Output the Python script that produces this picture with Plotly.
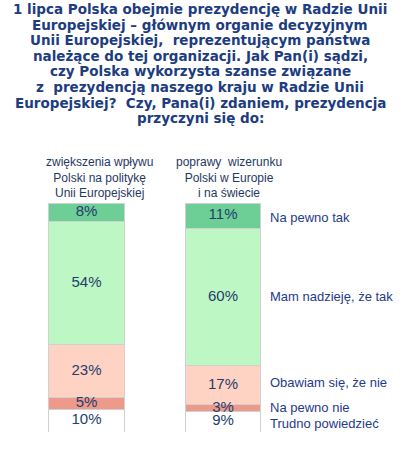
import numpy as np
import plotly.graph_objects as go

# dane z wykresu (od dołu słupka do góry)
odpowiedzi = ['Trudno powiedzieć', 'Na pewno nie', 'Obawiam się, że nie', 'Mam nadzieję, że tak', 'Na pewno tak']
kolory = ['#FFFFFF', '#EE9A8A', '#FFD3C3', '#BDF7C3', '#6DCE96']
wplyw = [10, 5, 23, 54, 8]
wizerunek = [9, 3, 17, 60, 11]
kategorie = ['zwiększenia wpływu<br>Polski na politykę<br>Unii Europejskiej',
             'poprawy  wizerunku<br>Polski w Europie<br>i na świecie']

tytul = ['1 lipca Polska obejmie prezydencję w Radzie Unii',
         'Europejskiej – głównym organie decyzyjnym',
         'Unii Europejskiej,  reprezentującym państwa',
         'należące do tej organizacji. Jak Pan(i) sądzi,',
         'czy Polska wykorzysta szanse związane',
         'z  prezydencją naszego kraju w Radzie Unii',
         'Europejskiej?  Czy, Pana(i) zdaniem, prezydencja',
         'przyczyni się do:']

fig = go.Figure()
for i, nazwa in enumerate(odpowiedzi):
    fig.add_trace(go.Bar(x=[0, 1], y=[wplyw[i], wizerunek[i]], name=nazwa, width=0.555,
                         marker=dict(color=kolory[i], line=dict(color='#D0D0D0', width=1))))

# etykiety procentowe w środku segmentów
for j, seria in enumerate([wplyw, wizerunek]):
    seria = np.array(seria)
    srodki = np.cumsum(seria) - seria / 2
    fig.add_trace(go.Scatter(x=[j] * len(seria), y=srodki, mode='text',
                             text=[f'{v}%' for v in seria],
                             textfont=dict(family='Liberation Sans, Arial', size=15, color='#253C6E'),
                             showlegend=False, hoverinfo='skip'))

# opisy odpowiedzi po prawej, przy drugim słupku
s2 = np.array(wizerunek)
srodki2 = np.cumsum(s2) - s2 / 2
przes = [-2, 0, 3, 0, -2]
for i, nazwa in enumerate(odpowiedzi):
    fig.add_annotation(x=1.33, y=srodki2[i], xref='x', yref='y', text=nazwa, showarrow=False,
                       xanchor='left', yanchor='middle', yshift=przes[i],
                       font=dict(family='Liberation Sans, Arial', size=13, color='#1F3A8A'))

# opisy kategorii nad słupkami
for j, kat in enumerate(kategorie):
    fig.add_annotation(x=[0.092, 1.044][j], y=1.1115, xref='x', yref='paper', text=kat, showarrow=False,
                       xanchor='center', yanchor='middle', align='center',
                       font=dict(family='Liberation Sans, Arial', size=12, color='#1F3864'))

# tytuł - każda linia osobno, odstęp ok. 15.6 px
for k, linia in enumerate(tytul):
    py = 9 + k * 15.6
    fig.add_annotation(x=0.494, y=(432 - py) / 229, xref='paper', yref='paper',
                       text='<b>' + linia + '</b>', showarrow=False,
                       xanchor='center', yanchor='middle',
                       font=dict(family='DejaVu Sans', size=13.5, color='#203C80'))

fig.update_layout(barmode='stack', width=405, height=449, showlegend=False,
                  margin=dict(l=0, r=0, t=203, b=17),
                  paper_bgcolor='white', plot_bgcolor='white')
fig.update_xaxes(range=[-0.6337, 2.333], visible=False)
fig.update_yaxes(range=[0, 100], visible=False)

# bez domyślnego marginesu strony i bez paska narzędzi
fig.write_html('out.html', config={'displayModeBar': False},
               post_script="document.body.style.margin='0';")
